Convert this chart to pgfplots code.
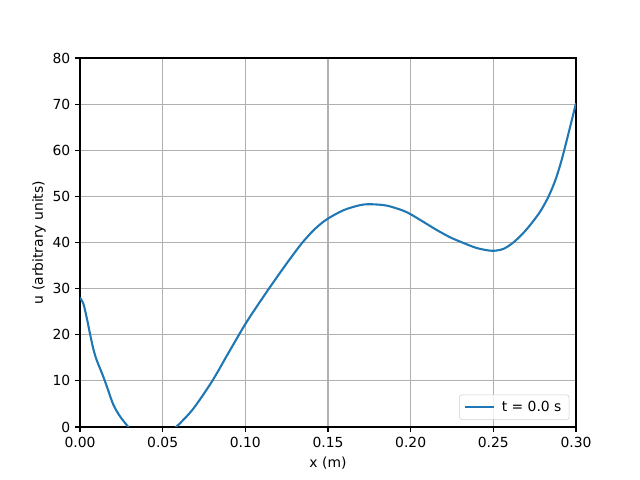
\documentclass[border=0pt]{standalone}
\usepackage{fontspec}
\setmainfont{DejaVu Sans}
\usepackage{pgfplots}
\pgfplotsset{compat=1.18}
\definecolor{c0}{HTML}{1F77B4}
\definecolor{gridc}{HTML}{B0B0B0}
\begin{document}
\begin{tikzpicture}
\begin{axis}[
  scale only axis,
  width=357.12pt, height=265.68pt,
  xmin=0, xmax=0.3, ymin=0, ymax=80,
  xtick={0,0.05,0.1,0.15,0.2,0.25,0.3},
  xticklabels={0.00,0.05,0.10,0.15,0.20,0.25,0.30},
  ytick={0,10,...,80},
  /pgf/number format/assume math mode=true,
  tick align=outside, tick pos=left,
  major tick length=3.5pt,
  every tick/.style={black, line width=0.8pt},
  axis line style={line width=0.8pt},
  grid=major,
  major grid style={gridc, line width=0.8pt},
  xlabel={x (m)}, ylabel={u (arbitrary units)},
  ylabel shift=-2pt,
  ticklabel style={font=\fontsize{10}{12}\selectfont},
  label style={font=\fontsize{10}{12}\selectfont},
  legend style={
    at={(0.9866,0.019)}, anchor=south east,
    font=\fontsize{10}{12}\selectfont,
    draw=gridc!60, rounded corners=2pt,
    fill=white, fill opacity=0.8, text opacity=1, draw opacity=1,
    inner xsep=3.5pt, inner ysep=2.5pt,
  },
  legend cell align=left,
  legend image code/.code={\draw[#1] (0pt,0pt) -- (21pt,0pt);},
]
\addplot[c0, line width=1.5pt, smooth] coordinates {
(0.0000,28.0) (0.0020,26.8) (0.0040,23.8) (0.0060,20.3) (0.0080,17.0)
(0.0100,14.6) (0.0141,10.9) (0.0170,8.0) (0.0202,4.8) (0.0242,2.3)
(0.0292,0.0) (0.0350,-2.8) (0.0440,-4.2) (0.0520,-2.6) (0.0581,0.0)
(0.0605,0.8) (0.0686,4.0) (0.0797,9.8) (0.0897,16.0) (0.0998,22.2)
(0.1069,26.1) (0.1139,29.8) (0.1241,35.0) (0.1341,39.8) (0.1420,42.9)
(0.1492,45.0) (0.1594,47.0) (0.1694,48.1) (0.1755,48.3) (0.1855,48.0)
(0.1955,46.9) (0.2006,46.0) (0.2080,44.4) (0.2158,42.7) (0.2240,41.1)
(0.2319,39.9) (0.2400,38.8) (0.2490,38.2) (0.2560,38.6) (0.2621,40.0)
(0.2680,42.0) (0.2732,44.2) (0.2785,46.8) (0.2833,49.9) (0.2875,53.5)
(0.2914,58.0) (0.2964,65.0) (0.3000,70.2)
};
\addlegendentry{\hspace{2.5pt}t = 0.0 s}
\end{axis}
\path (current axis.south west) ++(-57.6pt,-38.16pt) coordinate (bl);
\path (current axis.north east) ++(46.08pt,41.76pt) coordinate (tr);
\path (bl) rectangle (tr);
\end{tikzpicture}
\end{document}
